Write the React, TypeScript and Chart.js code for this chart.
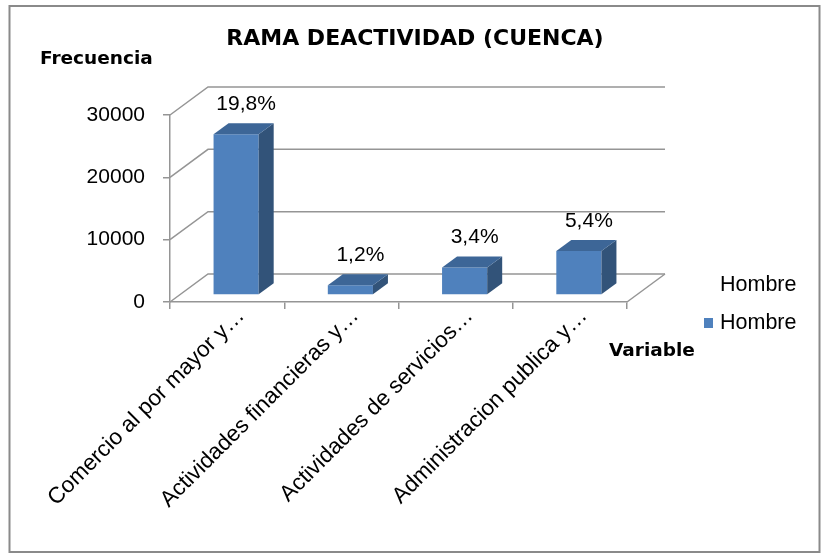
import React, { useEffect, useRef } from 'react';
import { Chart, registerables } from 'chart.js';

Chart.register(...registerables);

// ---- data ----
const categories = [
  'Comercio al por mayor y…',
  'Actividades financieras y…',
  'Actividades de servicios…',
  'Administracion publica y…',
];
const hombreValues = [25800, 1560, 4430, 7040];
const percentLabels = ['19,8%', '1,2%', '3,4%', '5,4%'];
const yMin = 0;
const yMax = 30000;
const yStep = 10000;
const chartTitle = 'RAMA DEACTIVIDAD (CUENCA)';
const yAxisTitle = 'Frecuencia';
const xAxisTitle = 'Variable';
const seriesName = 'Hombre';
const legendTitle = 'Hombre';

// ---- styles ----
const FRONT = '#4F81BD';
const SIDE = '#325379';
const TOP = '#3D6697';
const GRID = '#959595';
const TEXT = '#000000';
const FONT = '"Liberation Sans", Arial, sans-serif';
const BOLD_FONT = '"DejaVu Sans", sans-serif';

const WALL = { dx: 38, dy: -28 };
const BAR_SHIFT = { dx: 9, dy: -7 };
const BAR_DEPTH = { dx: 15, dy: -11 };

const excel3d = {
  id: 'excel3d',
  beforeDraw(chart: any) {
    const { ctx, width, height } = chart;
    ctx.save();
    ctx.fillStyle = '#ffffff';
    ctx.fillRect(0, 0, width, height);
    ctx.strokeStyle = '#8a8a8a';
    ctx.lineWidth = 2;
    ctx.strokeRect(9.5, 6, 810, 546);
    ctx.restore();
  },
  beforeDatasetsDraw(chart: any) {
    const { ctx, chartArea: ca, scales } = chart;
    const y = scales.y;
    ctx.save();
    ctx.strokeStyle = GRID;
    ctx.lineWidth = 1.5;
    y.ticks.forEach((t: any) => {
      const py = y.getPixelForValue(t.value);
      ctx.beginPath();
      ctx.moveTo(ca.left, py);
      ctx.lineTo(ca.left + WALL.dx, py + WALL.dy);
      ctx.lineTo(ca.right + WALL.dx, py + WALL.dy);
      ctx.stroke();
    });
    ctx.beginPath();
    ctx.moveTo(ca.right, ca.bottom);
    ctx.lineTo(ca.right + WALL.dx, ca.bottom + WALL.dy);
    ctx.stroke();
    ctx.restore();
    ctx.save();
    ctx.translate(BAR_SHIFT.dx, BAR_SHIFT.dy);
  },
  afterDatasetsDraw(chart: any) {
    const { ctx } = chart;
    ctx.restore();
    const meta = chart.getDatasetMeta(0);
    ctx.save();
    meta.data.forEach((bar: any, i: number) => {
      const { x, y, base, width } = bar.getProps(['x', 'y', 'base', 'width'], true);
      const l = x - width / 2 + BAR_SHIFT.dx;
      const r = x + width / 2 + BAR_SHIFT.dx;
      const t = y + BAR_SHIFT.dy;
      const b = base + BAR_SHIFT.dy;
      ctx.fillStyle = SIDE;
      ctx.beginPath();
      ctx.moveTo(r, t);
      ctx.lineTo(r + BAR_DEPTH.dx, t + BAR_DEPTH.dy);
      ctx.lineTo(r + BAR_DEPTH.dx, b + BAR_DEPTH.dy);
      ctx.lineTo(r, b);
      ctx.closePath();
      ctx.fill();
      ctx.fillStyle = TOP;
      ctx.beginPath();
      ctx.moveTo(l, t);
      ctx.lineTo(l + BAR_DEPTH.dx, t + BAR_DEPTH.dy);
      ctx.lineTo(r + BAR_DEPTH.dx, t + BAR_DEPTH.dy);
      ctx.lineTo(r, t);
      ctx.closePath();
      ctx.fill();
      ctx.fillStyle = TEXT;
      ctx.font = `21px ${FONT}`;
      ctx.textAlign = 'center';
      ctx.textBaseline = 'middle';
      ctx.fillText(percentLabels[i], x + 19, t + BAR_DEPTH.dy - 19);
    });
    ctx.restore();
  },
  afterDraw(chart: any) {
    const { ctx } = chart;
    ctx.save();
    ctx.fillStyle = TEXT;
    ctx.textBaseline = 'middle';
    // title
    ctx.font = `bold 22px ${BOLD_FONT}`;
    ctx.textAlign = 'center';
    ctx.fillText(chartTitle, 415, 39);
    // axis titles
    ctx.font = `bold 18.5px ${BOLD_FONT}`;
    ctx.textAlign = 'left';
    ctx.fillText(yAxisTitle, 40, 59);
    ctx.fillText(xAxisTitle, 609, 351);
    // legend
    ctx.font = `21.5px ${FONT}`;
    ctx.fillText(legendTitle, 720, 285);
    ctx.fillStyle = FRONT;
    ctx.fillRect(704, 318, 9, 10);
    ctx.fillStyle = TEXT;
    ctx.fillText(seriesName, 720, 323.5);
    ctx.restore();
  },
};

export default function App() {
  const ref = useRef<HTMLCanvasElement>(null);
  useEffect(() => {
    const chart = new Chart(ref.current as HTMLCanvasElement, {
      type: 'bar',
      data: {
        labels: categories,
        datasets: [
          {
            label: seriesName,
            data: hombreValues,
            backgroundColor: FRONT,
            borderWidth: 0,
            barPercentage: 0.395,
            categoryPercentage: 1,
            clip: false as any,
          },
        ],
      },
      options: {
        responsive: false,
        animation: false,
        devicePixelRatio: 1,
        layout: { padding: { top: 115, right: 198, left: 0, bottom: 0 } },
        plugins: {
          legend: { display: false },
          title: { display: false },
          tooltip: { enabled: false },
        },
        scales: {
          x: {
            grid: {
              offset: true,
              drawOnChartArea: false,
              drawTicks: true,
              tickLength: 7,
              color: GRID,
              lineWidth: 1.5,
            },
            border: { display: true, color: GRID, width: 1.5 },
            ticks: {
              autoSkip: false,
              maxRotation: 45,
              minRotation: 45,
              padding: -6,
              labelOffset: 14,
              color: TEXT,
              font: { family: FONT, size: 22.5 },
            },
            afterFit(scale: any) {
              scale.height = 555 - 302;
            },
          },
          y: {
            min: yMin,
            max: yMax,
            ticks: {
              stepSize: yStep,
              padding: 18,
              color: TEXT,
              font: { family: FONT, size: 21 },
              callback: (v: any) => String(v),
            },
            grid: {
              drawOnChartArea: false,
              drawTicks: true,
              tickLength: 7,
              color: GRID,
              lineWidth: 1.5,
            },
            border: { display: true, color: GRID, width: 1.5 },
            afterFit(scale: any) {
              scale.width = 170;
            },
          },
        },
      },
      plugins: [excel3d],
    });
    return () => chart.destroy();
  }, []);
  return (
    <div style={{ position: 'absolute', left: 0, top: 0, width: 825, height: 555, background: '#fff' }}>
      <canvas ref={ref} width={825} height={555} style={{ display: 'block' }} />
    </div>
  );
}
